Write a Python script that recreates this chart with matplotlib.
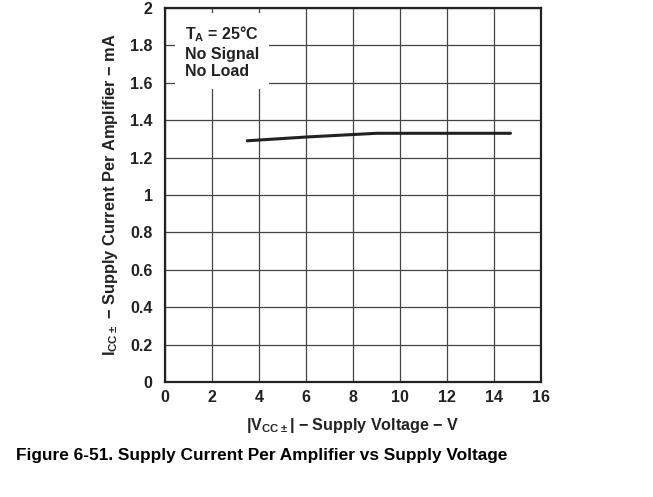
import matplotlib
matplotlib.use("Agg")
import matplotlib.pyplot as plt

plt.rcParams['font.family'] = ['Liberation Sans', 'DejaVu Sans']
plt.rcParams['font.weight'] = 'bold'
plt.rcParams['mathtext.fontset'] = 'custom'
plt.rcParams['mathtext.rm'] = 'Liberation Sans:bold'
plt.rcParams['mathtext.bf'] = 'Liberation Sans:bold'
plt.rcParams['mathtext.default'] = 'bf'

# supply voltage (V) vs supply current per amplifier (mA)
vcc = [3.5, 6.0, 9.0, 12.0, 14.7]
icc = [1.29, 1.31, 1.33, 1.33, 1.33]

x_ticks = [0, 2, 4, 6, 8, 10, 12, 14, 16]
y_ticks = [0, 0.2, 0.4, 0.6, 0.8, 1.0, 1.2, 1.4, 1.6, 1.8, 2.0]
y_labels = ['0', '0.2', '0.4', '0.6', '0.8', '1', '1.2', '1.4', '1.6', '1.8', '2']

dark = '#222222'

fig = plt.figure(figsize=(6.53, 4.97), dpi=100)
ax = fig.add_axes([0.2527, 0.2314, 0.5758, 0.7525])

ax.plot(vcc, icc, color=dark, lw=2.2, solid_capstyle='round', zorder=4)

ax.set_xlim(0, 16)
ax.set_ylim(0, 2)
ax.set_xticks(x_ticks)
ax.set_yticks(y_ticks)
ax.set_yticklabels(y_labels)
ax.tick_params(length=0, labelsize=11.5, colors=dark)
ax.tick_params(axis='x', pad=6)
ax.tick_params(axis='y', pad=9)
ax.grid(True, color='#444444', lw=0.9)
ax.set_axisbelow(True)
for s in ax.spines.values():
    s.set_linewidth(1.6)
    s.set_color(dark)

ax.set_xlabel(r'|V$_{CC\pm}$| $-$ Supply Voltage $-$ V', fontsize=11.6,
              fontweight='bold', color=dark, labelpad=8)
ax.set_ylabel(r'I$_{CC\pm}$ $-$ Supply Current Per Amplifier $-$ mA', fontsize=11.8,
              fontweight='bold', color=dark, labelpad=7)

ax.text(0.85, 1.765, 'T$_A$ = 25°C\nNo Signal\nNo Load', fontsize=11.5,
        fontweight='bold', color=dark, va='center', ha='left', linespacing=1.2,
        bbox=dict(facecolor='white', edgecolor='none', pad=7), zorder=3)

fig.text(0.40, 0.083, 'Figure 6-51. Supply Current Per Amplifier vs Supply Voltage',
         ha='center', va='center', fontsize=12.4, fontweight='bold', color='black')

fig.savefig('out.png', dpi=100)
